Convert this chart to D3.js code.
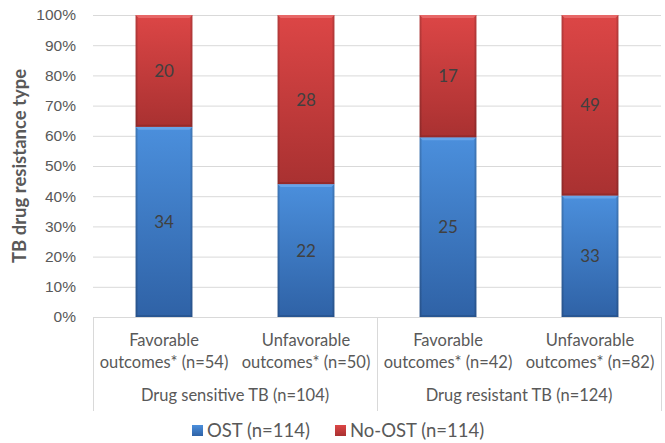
<!DOCTYPE html>
<html>
<head>
<meta charset="utf-8">
<script src="https://cdn.jsdelivr.net/npm/d3@7/dist/d3.min.js"></script>
<style>
  html, body { margin: 0; padding: 0; background: #fff; }
  svg { display: block; font-family: Lato, "Open Sans", sans-serif; }
</style>
</head>
<body>
<svg id="chart" width="665" height="443"></svg>
<script>
// Outcome categories, grouped by TB drug resistance type
const outcomeLines1 = ["Favorable", "Unfavorable", "Favorable", "Unfavorable"];
const outcomeLines2 = ["outcomes* (n=54)", "outcomes* (n=50)", "outcomes* (n=42)", "outcomes* (n=82)"];
const groupLabels = ["Drug sensitive TB (n=104)", "Drug resistant TB (n=124)"];
const groupSizes = [2, 2];

// Patient counts per category
const ostCounts = [34, 22, 25, 33];
const noOstCounts = [20, 28, 17, 49];

const seriesNames = ["OST (n=114)", "No-OST (n=114)"];
const yTickValues = [0, 0.1, 0.2, 0.3, 0.4, 0.5, 0.6, 0.7, 0.8, 0.9, 1.0];

const svg = d3.select("#chart");
const margin = { left: 93, right: 4, top: 15, bottom: 126 };
const W = 665, H = 443;
const plotW = W - margin.left - margin.right;
const plotH = H - margin.top - margin.bottom;

const idx = d3.range(outcomeLines1.length);
const x = d3.scaleBand().domain(idx).range([margin.left, margin.left + plotW]).paddingInner(0.6).paddingOuter(0.3);
const step = plotW / idx.length;
const y = d3.scaleLinear().domain([0, 1]).range([margin.top + plotH, margin.top]);

// Gradients giving the bars their bevelled look
const defs = svg.append("defs");
function vGrad(id, stops) {
  const g = defs.append("linearGradient").attr("id", id).attr("x1", 0).attr("y1", 0).attr("x2", 0).attr("y2", 1);
  stops.forEach(s => g.append("stop").attr("offset", s[0]).attr("stop-color", s[1]));
}
vGrad("gBlue", [[0, "#4b8fdc"], [1, "#2f62a6"]]);
vGrad("gRed", [[0, "#dc4646"], [1, "#a93131"]]);
const side = defs.append("linearGradient").attr("id", "gSide").attr("x1", 0).attr("y1", 0).attr("x2", 1).attr("y2", 0);
[[0, "#000", 0.22], [0.05, "#000", 0.0], [0.95, "#000", 0.0], [1, "#000", 0.22]]
  .forEach(s => side.append("stop").attr("offset", s[0]).attr("stop-color", s[1]).attr("stop-opacity", s[2]));

// Gridlines and y tick labels
const yAxis = d3.axisLeft(y).tickValues(yTickValues).tickSize(-plotW).tickFormat(d3.format(".0%"));
const gy = svg.append("g").attr("transform", `translate(${margin.left},0)`).call(yAxis);
gy.select(".domain").remove();
gy.selectAll(".tick line").attr("stroke", "#d9d9d9").attr("stroke-width", 1);
gy.selectAll(".tick text").attr("x", -17).attr("fill", "#595959").style("font-size", "15.5px");

// Y axis title
svg.append("text")
  .attr("transform", `translate(26,${margin.top + plotH / 2}) rotate(-90)`)
  .attr("text-anchor", "middle")
  .attr("fill", "#595959")
  .style("font-size", "18.5px").style("font-weight", "bold")
  .text("TB drug resistance type");

// Stacked 100% bars
const totals = idx.map(i => ostCounts[i] + noOstCounts[i]);
const segs = [];
idx.forEach(i => {
  const p = ostCounts[i] / totals[i];
  segs.push({ i, y0: 0, y1: p, v: ostCounts[i], fill: "url(#gBlue)", light: "#6aa6ea", dark: "#244e86" });
  segs.push({ i, y0: p, y1: 1, v: noOstCounts[i], fill: "url(#gRed)", light: "#e86a6a", dark: "#882626" });
});

const bars = svg.append("g");
segs.forEach(s => {
  const bx = x(s.i), bw = x.bandwidth();
  const top = y(s.y1), bot = y(s.y0), h = bot - top;
  bars.append("rect").attr("x", bx).attr("y", top).attr("width", bw).attr("height", h).attr("fill", s.fill);
  bars.append("rect").attr("x", bx).attr("y", top).attr("width", bw).attr("height", h).attr("fill", "url(#gSide)");
  // top highlight bevel
  bars.append("path")
    .attr("d", `M${bx},${top}H${bx + bw}L${bx + bw - 3},${top + 3}H${bx + 3}Z`)
    .attr("fill", s.light).attr("opacity", 0.9);
  // bottom shadow bevel
  bars.append("path")
    .attr("d", `M${bx},${bot}H${bx + bw}L${bx + bw - 2},${bot - 2}H${bx + 2}Z`)
    .attr("fill", s.dark).attr("opacity", 0.6);
  bars.append("text")
    .attr("x", bx + bw / 2).attr("y", (top + bot) / 2)
    .attr("dy", "0.35em").attr("text-anchor", "middle")
    .attr("fill", "#404040").style("font-size", "17px")
    .text(s.v);
});

// Multi-level category axis
const axisY = margin.top + plotH;
const boxBottom = 411;
const ax = svg.append("g").attr("stroke", "#d9d9d9").attr("stroke-width", 1);
ax.append("line").attr("x1", margin.left).attr("x2", margin.left + plotW).attr("y1", axisY + 0.5).attr("y2", axisY + 0.5);
let acc = 0;
const seps = [0];
groupSizes.forEach(n => { acc += n; seps.push(acc); });
seps.forEach(k => {
  const sx = Math.round(margin.left + k * step) + 0.5;
  ax.append("line").attr("x1", sx).attr("x2", sx).attr("y1", axisY).attr("y2", boxBottom);
});

const catText = svg.append("g").attr("fill", "#595959").style("font-size", "16.5px").attr("text-anchor", "middle");
idx.forEach(i => {
  const cx = x(i) + x.bandwidth() / 2;
  catText.append("text").attr("x", cx).attr("y", 346).text(outcomeLines1[i]);
  catText.append("text").attr("x", cx).attr("y", 368).text(outcomeLines2[i]);
});
acc = 0;
groupSizes.forEach((n, gi) => {
  const cx = margin.left + (acc + n / 2) * step;
  catText.append("text").attr("x", cx).attr("y", 401).text(groupLabels[gi]);
  acc += n;
});

// Legend
const legend = svg.append("g").style("font-size", "18.5px").attr("fill", "#595959");
const legItems = [
  { name: seriesNames[0], fill: "url(#gBlue)", x: 192 },
  { name: seriesNames[1], fill: "url(#gRed)", x: 335 }
];
legItems.forEach(it => {
  legend.append("rect").attr("x", it.x).attr("y", 425).attr("width", 11).attr("height", 11).attr("fill", it.fill);
  legend.append("text").attr("x", it.x + 15).attr("y", 437).text(it.name);
});
</script>
</body>
</html>
